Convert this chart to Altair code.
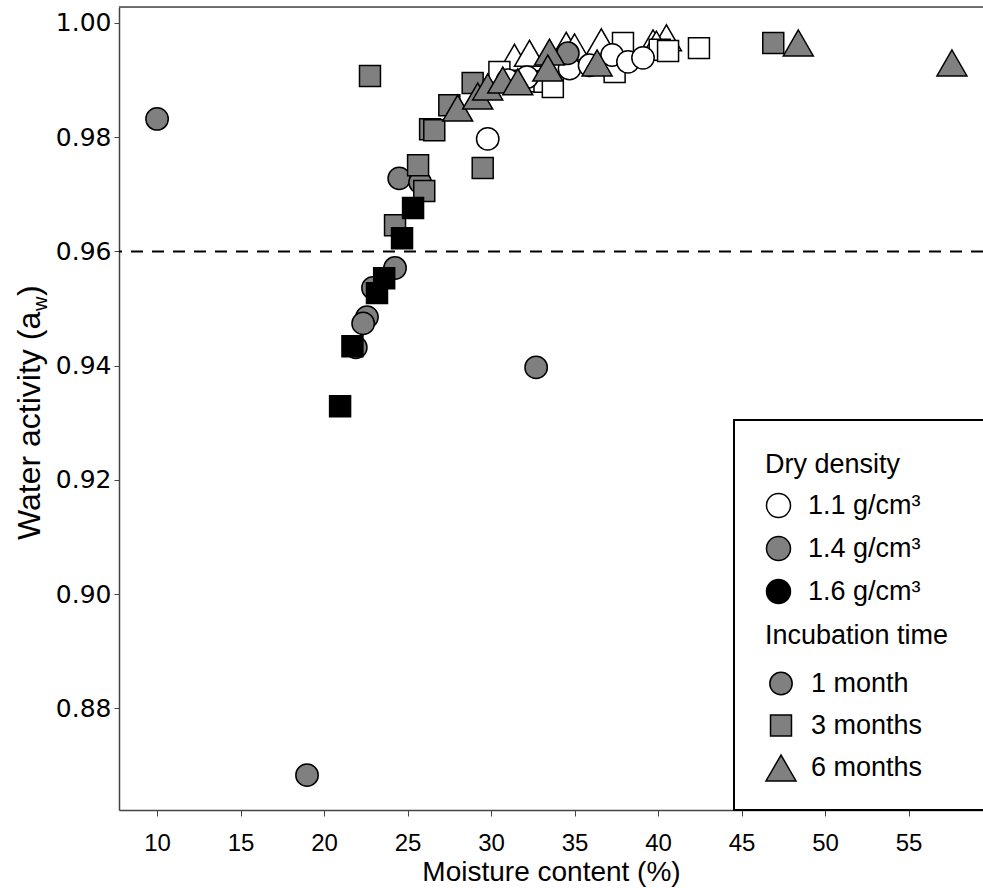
import altair as alt
import pandas as pd

DENS = ["1.1 g/cm³", "1.4 g/cm³", "1.6 g/cm³"]
INCUB = ["1 month", "3 months", "6 months"]
X_TICKS = [10, 15, 20, 25, 30, 35, 40, 45, 50, 55]
Y_TICKS = [0.88, 0.90, 0.92, 0.94, 0.96, 0.98, 1.00]
THRESHOLD = 0.96

# 1.1 g/cm3
w6_x = [31.4, 32.3, 34.5, 35.0, 36.6, 39.7, 40.5, 39.9]
w6_y = [0.9940, 0.9947, 0.9961, 0.9958, 0.9967, 0.9965, 0.9974, 0.9963]
w3_x = [30.5, 32.5, 33.2, 33.7, 37.4, 37.9, 40.1, 40.6, 42.45]
w3_y = [0.9914, 0.9898, 0.9897, 0.9888, 0.9914, 0.9965, 0.9953, 0.9951, 0.9956]
w1_x = [29.8, 31.0, 32.15, 34.7, 35.9, 37.25, 38.2, 39.1]
w1_y = [0.9797, 0.9900, 0.9905, 0.9920, 0.9926, 0.9944, 0.9932, 0.9939]
# 1.4 g/cm3
g1_x = [10.0, 18.98, 32.7, 24.5, 25.75, 24.25, 22.93, 22.57, 22.34, 21.9, 34.6]
g1_y = [0.9832, 0.8683, 0.9397, 0.9728, 0.9721, 0.9571, 0.9536, 0.9485, 0.9474, 0.9432, 0.9947]
g3_x = [22.75, 26.35, 26.6, 25.63, 26.0, 24.25, 29.5, 27.5, 28.9, 46.9]
g3_y = [0.9907, 0.9814, 0.9812, 0.9751, 0.9706, 0.9646, 0.9746, 0.9856, 0.9895, 0.9965]
g6_x = [28.0, 29.2, 29.8, 30.7, 31.6, 33.5, 33.4, 36.35, 48.4, 57.6]
g6_y = [0.9851, 0.9872, 0.9888, 0.9900, 0.9897, 0.9949, 0.9921, 0.9930, 0.9965, 0.9930]
# 1.6 g/cm3
b3_x = [25.33, 24.67, 23.6, 23.17, 21.7, 20.96]
b3_y = [0.9676, 0.9623, 0.9553, 0.9527, 0.9434, 0.9329]

groups = [
    (w6_x, w6_y, DENS[0], INCUB[2]),
    (w3_x, w3_y, DENS[0], INCUB[1]),
    (w1_x, w1_y, DENS[0], INCUB[0]),
    (g1_x, g1_y, DENS[1], INCUB[0]),
    (g3_x, g3_y, DENS[1], INCUB[1]),
    (g6_x, g6_y, DENS[1], INCUB[2]),
    (b3_x, b3_y, DENS[2], INCUB[1]),
]
rows = []
for xs, ys, d, inc in groups:
    for xv, yv in zip(xs, ys):
        rows.append({"moisture": xv, "aw": yv, "density": d, "incubation": inc})
df = pd.DataFrame(rows)

W, H = 864, 803
FONT = "Liberation Sans"
GREY = "#808080"

fill_legend = alt.Legend(
    title="Dry density", orient="none", legendX=646, legendY=445,
    symbolType="circle", symbolSize=576, symbolStrokeColor="black",
    symbolStrokeWidth=1.5, symbolOpacity=1,
    labelFontSize=27, titleFontSize=27, titleFontWeight="normal",
    titleFont=FONT, labelFont=FONT, titleColor="black", labelColor="black",
    rowPadding=12, titlePadding=13, labelOffset=16, padding=0,
    titleLimit=400, labelLimit=300,
)
shape_legend = alt.Legend(
    title="Incubation time", orient="none", legendX=646, legendY=616,
    symbolFillColor=GREY, symbolStrokeColor="black",
    symbolStrokeWidth=1.5, symbolOpacity=1,
    labelFontSize=27, titleFontSize=27, titleFontWeight="normal",
    titleFont=FONT, labelFont=FONT, titleColor="black", labelColor="black",
    rowPadding=13, titlePadding=20, labelOffset=14, padding=0,
    titleLimit=400, labelLimit=300,
)

points = alt.Chart(df).mark_point(
    filled=True, stroke="black", strokeWidth=1.5, opacity=1
).encode(
    x=alt.X("moisture:Q",
            scale=alt.Scale(domain=[7.72, 59.46], nice=False, zero=False),
            axis=alt.Axis(values=X_TICKS, title="Moisture content (%)",
                          labelFontSize=24, labelFont=FONT, titleFont=FONT,
                          titleFontSize=28, titleFontWeight="normal",
                          tickSize=6, labelPadding=15, titlePadding=3,
                          domainColor="#444", tickColor="#444", domainWidth=1.5,
                          labelColor="black", titleColor="black", grid=False)),
    y=alt.Y("aw:Q",
            scale=alt.Scale(domain=[0.8622, 1.0028], nice=False, zero=False),
            axis=alt.Axis(values=Y_TICKS, format=".2f", title=None,
                          labelFontSize=25, labelFont="DejaVu Sans",
                          tickSize=5, labelPadding=3,
                          domainColor="#444", tickColor="#444", domainWidth=1.5,
                          labelColor="black", grid=False)),
    fill=alt.Fill("density:N", scale=alt.Scale(domain=DENS, range=["white", GREY, "black"]),
                  legend=fill_legend),
    shape=alt.Shape("incubation:N",
                    scale=alt.Scale(domain=INCUB, range=["circle", "square", "triangle-up"]),
                    legend=shape_legend),
    size=alt.Size("incubation:N",
                  scale=alt.Scale(type="ordinal", domain=INCUB, range=[500, 440, 900]),
                  legend=shape_legend),
)

rule = alt.Chart(pd.DataFrame({"v": [THRESHOLD]})).mark_rule(
    color="black", strokeWidth=2, strokeDash=[12, 9]
).encode(y="v:Q")

one = pd.DataFrame({"a": [0]})
top_border = alt.Chart(one).mark_rule(color="#444", strokeWidth=1.5).encode(
    x=alt.value(0), x2=alt.value(W), y=alt.value(0))

legend_box = alt.Chart(one).mark_rect(
    fill="white", stroke="black", strokeWidth=2
).encode(x=alt.value(615), x2=alt.value(880), y=alt.value(413), y2=alt.value(803))

TX = -79
t1 = alt.Chart(one).mark_text(text="Water activity (a", angle=270, align="left",
                              baseline="alphabetic", font=FONT, fontSize=32, color="black"
                              ).encode(x=alt.value(TX), y=alt.value(533))
t2 = alt.Chart(one).mark_text(text="w", angle=270, align="left",
                              baseline="alphabetic", font=FONT, fontSize=20, color="black"
                              ).encode(x=alt.value(TX + 7), y=alt.value(304))
t3 = alt.Chart(one).mark_text(text=")", angle=270, align="left",
                              baseline="alphabetic", font=FONT, fontSize=32, color="black"
                              ).encode(x=alt.value(TX), y=alt.value(289))

chart = alt.layer(rule, points, legend_box, top_border, t1, t2, t3).properties(
    width=W, height=H,
    autosize=alt.AutoSizeParams(type="none"),
    padding={"left": 119, "top": 7, "right": 0, "bottom": 78},
).configure_view(stroke=None).configure_legend(
    symbolBaseFillColor=GREY, symbolBaseStrokeColor="black"
).configure(font=FONT, background="white")

chart.save("out.html", embed_options={"renderer": "svg", "actions": False})
